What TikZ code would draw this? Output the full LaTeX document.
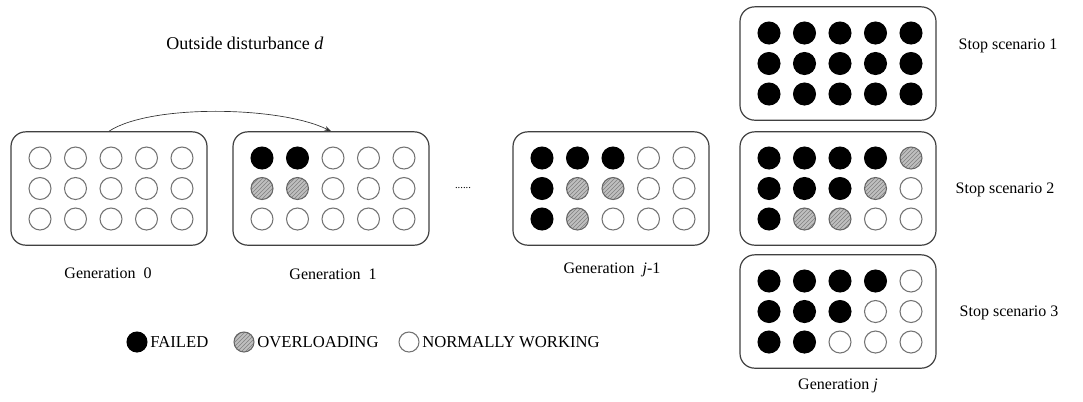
\documentclass[tikz,border=0pt]{standalone}
\usepackage{fontspec}
\setmainfont{Liberation Serif}
\usetikzlibrary{arrows.meta,patterns}
\newcommand\cgrid[6]{%
  \node[box] (#1) at (#2+98,#3+56.5) {};
  \foreach \s [count=\i] in {#4} \node[st \s] (#1-1-\i) at (#2+29+35.5*\i-35.5,#3+26) {};
  \foreach \s [count=\i] in {#5} \node[st \s] (#1-2-\i) at (#2+29+35.5*\i-35.5,#3+56.5) {};
  \foreach \s [count=\i] in {#6} \node[st \s] (#1-3-\i) at (#2+29+35.5*\i-35.5,#3+87) {};
}
\begin{document}
\begin{tikzpicture}[x=0.75pt,y=-0.75pt,
  box/.style={draw=black!75, line width=0.9pt, rounded corners=11pt, minimum width=147pt, minimum height=85pt, inner sep=0pt},
  cbase/.style={circle, minimum size=16.5pt, inner sep=0pt, line width=0.8pt},
  st F/.style={cbase, fill=black, draw=black},
  st O/.style={cbase, draw=black!60, preaction={fill=black!25}, pattern=north east lines, pattern color=black!50},
  st N/.style={cbase, draw=black!55, fill=white},
  lbl/.style={font=\fontsize{12}{14}\selectfont, inner sep=0pt},
  lgd/.style={font=\fontsize{12.5}{14}\selectfont, inner sep=0pt, anchor=west}]
\useasboundingbox (0,0) rectangle (1083,401);
\fill[white] (0,0) rectangle (1083,401);

\cgrid{g0}{11}{132}{N,N,N,N,N}{N,N,N,N,N}{N,N,N,N,N}
\cgrid{g1}{233}{132}{F,F,N,N,N}{O,O,N,N,N}{N,N,N,N,N}
\cgrid{gj}{513}{132}{F,F,F,N,N}{F,O,O,N,N}{F,O,N,N,N}
\cgrid{s1}{740}{7}{F,F,F,F,F}{F,F,F,F,F}{F,F,F,F,F}
\cgrid{s2}{740}{132}{F,F,F,F,O}{F,F,F,O,N}{F,O,O,N,N}
\cgrid{s3}{740}{255}{F,F,F,F,N}{F,F,F,N,N}{F,F,N,N,N}

\node[lbl] (l0) at (108,273) {Generation\enspace 0};
\node[lbl] (l1) at (333,274) {Generation\enspace 1};
\node[lbl] (lj1) at (612,270) {Generation\enspace \textit{j}-1};
\node[lbl] (lj) at (838,386) {Generation \textit{j}};

\node[lbl] (t1) at (1008,46) {Stop scenario 1};
\node[lbl] (t2) at (1005,190) {Stop scenario 2};
\node[lbl] (t3) at (1009,313) {Stop scenario 3};

\node[font=\fontsize{8}{8}\selectfont, inner sep=0pt] (dots) at (463,188) {......};

\node[lbl, font=\fontsize{13.5}{15}\selectfont] (dist) at (245,43) {Outside disturbance \textit{d}};
\draw[-{Stealth[length=5pt,width=3.5pt]}, line width=0.5pt, black!80] (g0.north) .. controls (150,104) and (280,106) .. (g1.north);

\node[st F, minimum size=15pt] (lf) at (137,342) {};
\node[lgd] (lft) at (150,342) {FAILED};
\node[st O, minimum size=15pt] (lo) at (244,342) {};
\node[lgd] (lot) at (257,342) {OVERLOADING};
\node[st N, minimum size=15pt] (ln) at (409,342) {};
\node[lgd] (lnt) at (422,342) {NORMALLY WORKING};
\end{tikzpicture}
\end{document}
